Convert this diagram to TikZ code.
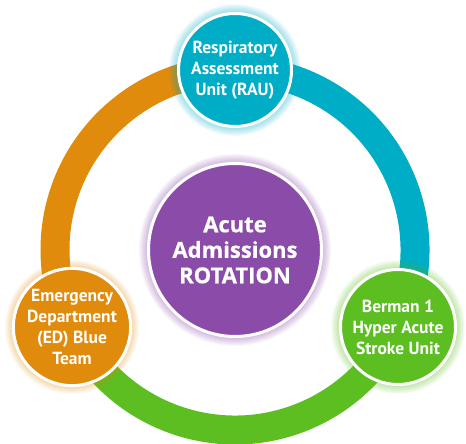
\documentclass[tikz,border=0pt]{standalone}
\usepackage{fontspec}
\setmainfont{PT Sans}
\newfontfamily\ctrfont[FakeBold=0.6]{Open Sans}
\definecolor{cOr}{HTML}{E08B0B}
\definecolor{cTe}{HTML}{00ADC6}
\definecolor{cGr}{HTML}{5DBE22}
\definecolor{cPu}{HTML}{8A4BA9}
\newcommand{\myglow}[3]{\foreach \k in {1,...,8} \fill[#2,opacity=0.05] (#1) circle ({#3+\k});}
\tikzset{
  bub/.style={circle, draw=white, line width=3pt, text=white, align=center, inner sep=0pt,
    font=\bfseries\fontsize{17.5}{21}\selectfont},
  ringarc/.style={line width=29pt}
}
\begin{document}
\begin{tikzpicture}[x=1pt,y=1pt]
\useasboundingbox (0,0) rectangle (466,444);
\coordinate (O) at (235,194);
\coordinate (pT) at (235,374);
\coordinate (pL) at (72,117);
\coordinate (pR) at (398,117);
% ring
\draw[ringarc, cOr] (O) ++(90:180) arc[start angle=90, end angle=206, radius=180];
\draw[ringarc, cTe] (O) ++(-26:180) arc[start angle=-26, end angle=90, radius=180];
\draw[ringarc, cGr] (O) ++(205:180) arc[start angle=205, end angle=335, radius=180];
% glows
\myglow{pT}{cTe}{58}
\myglow{pL}{cOr}{59}
\myglow{pR}{cGr}{59}
\myglow{O}{cPu}{88}
% bubbles
\node[bub, fill=cTe, minimum size=113pt] (rau) at (pT) {Respiratory\\Assessment\\Unit (RAU)};
\node[bub, fill=cOr, minimum size=115pt] (ed) at (pL) {Emergency\\Department\\(ED) Blue\\Team};
\node[bub, fill=cGr, minimum size=115pt] (hasu) at (pR) {Berman 1\\Hyper Acute\\Stroke Unit};
\node[bub, fill=cPu, minimum size=173pt, font=\ctrfont\bfseries\fontsize{22}{25.5}\selectfont] (ctr) at (O) {Acute\\Admissions\\ROTATION};
\end{tikzpicture}
\end{document}
